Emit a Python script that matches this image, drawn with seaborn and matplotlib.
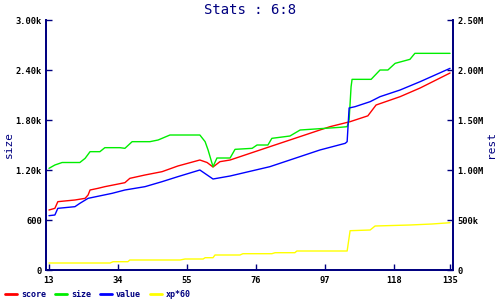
import matplotlib
matplotlib.use("Agg")
import matplotlib.pyplot as plt
import seaborn as sns
import pandas as pd
from matplotlib.lines import Line2D
from matplotlib.ticker import FixedLocator, FixedFormatter

sns.set_theme(style="white")
plt.rcParams['font.family'] = ['DejaVu Sans Mono']

NAVY = "#000080"

# ---- data ----
score_x = [13, 14.8, 15.7, 20.9, 24.0, 24.9, 25.5, 27.9, 30.0, 36.1, 37.6, 42.2, 47.4, 52.2,
           58.9, 61.1, 62.9, 65.0, 68.1, 80.2, 95.4, 98.5, 104.6, 110.0, 112.5, 119.8, 125.9, 135]
score_y = [720, 740, 820, 840, 860, 900, 960, 980, 1000, 1048, 1100, 1140, 1180, 1248,
           1320, 1290, 1236, 1300, 1320, 1480, 1680, 1720, 1780, 1850, 1980, 2080, 2184, 2364]

size_x = [13, 14.8, 17.0, 22.4, 24.0, 25.5, 28.5, 30.0, 34.6, 36.1, 38.3, 43.7, 46.2, 49.8,
          58.9, 60.5, 61.4, 62.9, 64.1, 68.1, 69.6, 74.8, 76.3, 79.6, 80.8, 86.3, 89.4,
          101.5, 103.7, 104.3, 104.9, 105.2, 111.0, 113.7, 116.1, 118.3, 122.8, 124.3, 135]
size_y = [1220, 1260, 1290, 1290, 1340, 1420, 1420, 1468, 1468, 1460, 1540, 1540, 1560, 1620,
          1620, 1540, 1440, 1240, 1344, 1344, 1448, 1460, 1500, 1500, 1580, 1608, 1680,
          1712, 1720, 1800, 2200, 2288, 2288, 2400, 2400, 2480, 2528, 2600, 2600]

value_x = [13, 14.8, 15.7, 20.9, 22.4, 24.9, 32.2, 36.1, 42.2, 47.4, 52.2, 58.9, 62.9, 68.1,
           80.2, 95.4, 103.1, 103.7, 104.3, 106.1, 110.7, 113.7, 119.8, 125.9, 135]
value_y = [652, 660, 740, 760, 800, 860, 920, 960, 1000, 1060, 1120, 1200, 1092, 1128,
           1240, 1440, 1520, 1540, 1944, 1960, 2020, 2080, 2160, 2260, 2420]

xp_x = [13, 31.6, 32.5, 37.0, 37.6, 52.9, 54.4, 59.9, 60.5, 62.9, 63.5, 71.1, 72.0, 80.8,
        81.8, 87.8, 88.4, 103.7, 104.6, 110.7, 112.2, 122.8, 129.5, 135]
xp_y = [70e3, 70e3, 83e3, 83e3, 100e3, 100e3, 110e3, 110e3, 123e3, 123e3, 150e3, 150e3,
        163e3, 163e3, 173e3, 173e3, 190e3, 190e3, 393e3, 400e3, 440e3, 450e3, 460e3, 473e3]

x_ticks = [13, 34, 55, 76, 97, 118, 135]
left_ticks = [0, 600, 1200, 1800, 2400, 3000]
left_labels = ["0", "600", "1.20k", "1.80k", "2.40k", "3.00k"]
right_ticks = [0, 500e3, 1000e3, 1500e3, 2000e3, 2500e3]
right_labels = ["0", "500k", "1.00M", "1.50M", "2.00M", "2.50M"]

series = [("score", score_x, score_y, "#ff0000"),
          ("size", size_x, size_y, "#00ee00"),
          ("value", value_x, value_y, "#0000ff")]

fig = plt.figure(figsize=(5, 3), dpi=100)
ax = fig.add_axes([0.092, 0.1, 0.814, 0.8333])
ax2 = ax.twinx()

for name, xs, ys, col in series:
    df = pd.DataFrame({"x": xs, "y": ys})
    sns.lineplot(data=df, x="x", y="y", ax=ax, color=col, linewidth=1.0, estimator=None, sort=False)
dfx = pd.DataFrame({"x": xp_x, "y": xp_y})
sns.lineplot(data=dfx, x="x", y="y", ax=ax2, color="#ffff00", linewidth=1.0, estimator=None, sort=False)

ax.set_xlim(12.1, 135.9)
ax.set_ylim(0, 3000)
ax2.set_ylim(0, 2.5e6)

for a in (ax, ax2):
    a.set_xlabel("")
    a.set_ylabel("")
    a.spines["top"].set_visible(False)
    for s in ("left", "right", "bottom"):
        a.spines[s].set_color(NAVY)
        a.spines[s].set_linewidth(1.3)
    a.grid(False)

ax.xaxis.set_major_locator(FixedLocator(x_ticks))
ax.xaxis.set_major_formatter(FixedFormatter([str(t) for t in x_ticks]))
ax.yaxis.set_major_locator(FixedLocator(left_ticks))
ax.yaxis.set_major_formatter(FixedFormatter(left_labels))
ax2.yaxis.set_major_locator(FixedLocator(right_ticks))
ax2.yaxis.set_major_formatter(FixedFormatter(right_labels))

TS = 6.3
ax.tick_params(axis="y", direction="in", length=4, width=1.0, color=NAVY,
               labelsize=TS, labelcolor="black", pad=3, left=True)
ax.tick_params(axis="x", direction="in", length=4, width=1.0, color=NAVY,
               labelsize=TS, labelcolor="black", pad=4, bottom=True)
ax2.tick_params(axis="y", direction="in", length=4, width=1.0, color=NAVY,
                labelsize=TS, labelcolor="black", pad=3, right=True)
for lab in ax.get_xticklabels() + ax.get_yticklabels() + ax2.get_yticklabels():
    lab.set_fontweight("bold")

fig.text(0.5, 0.965, "Stats : 6:8", ha="center", va="center", color=NAVY, fontsize=10)
fig.text(0.018, 0.517, "size", rotation=90, ha="center", va="center", color=NAVY, fontsize=8)
fig.text(0.982, 0.517, "rest", rotation=90, ha="center", va="center", color=NAVY, fontsize=8)

handles = [Line2D([], [], color=c, linewidth=2) for c in ["#ff0000", "#00ee00", "#0000ff", "#ffff00"]]
leg = fig.legend(handles, ["score", "size", "value", "xp*60"], loc="center left",
                 bbox_to_anchor=(0.0, 0.017), ncol=4, frameon=False,
                 prop={"size": 6, "weight": "bold"},
                 handlelength=1.45, handletextpad=0.45, columnspacing=1.1, borderaxespad=0.2)
for t in leg.get_texts():
    t.set_color(NAVY)

fig.savefig("out.png", dpi=100)
